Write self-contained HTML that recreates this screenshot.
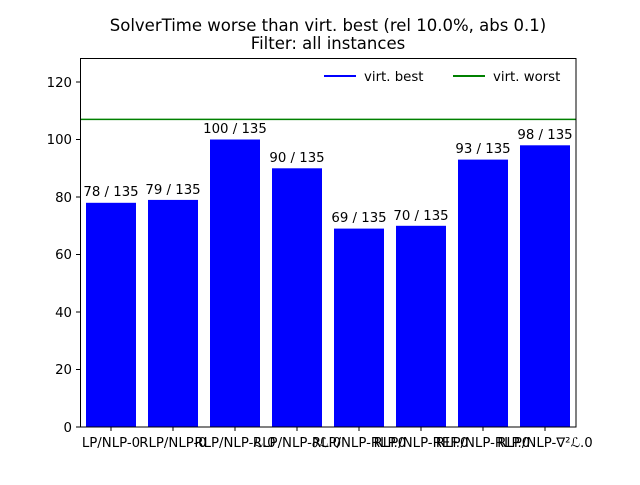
<!DOCTYPE html>
<html><head><meta charset="utf-8"><style>body{margin:0;background:#fff}</style></head><body>
<svg width="640" height="480" xmlns="http://www.w3.org/2000/svg" font-family="DejaVu Sans, Liberation Sans, sans-serif" font-size="13.3">
<rect width="640" height="480" fill="#fff"/>
<text x="328" y="31" text-anchor="middle" font-size="16.5">SolverTime worse than virt. best (rel 10.0%, abs 0.1)</text>
<text x="328" y="49" text-anchor="middle" font-size="16.5">Filter: all instances</text>
<g fill="#0000ff">
<rect x="86" y="202.8" width="50" height="224.2"/>
<rect x="148" y="199.9" width="50" height="227.1"/>
<rect x="210" y="139.5" width="50" height="287.5"/>
<rect x="272" y="168.3" width="50" height="258.7"/>
<rect x="334" y="228.6" width="50" height="198.4"/>
<rect x="396" y="225.8" width="50" height="201.2"/>
<rect x="458" y="159.6" width="50" height="267.4"/>
<rect x="520" y="145.3" width="50" height="281.7"/>
</g>
<g text-anchor="middle">
<text x="111" y="196">78 / 135</text>
<text x="173" y="194">79 / 135</text>
<text x="235" y="133">100 / 135</text>
<text x="297" y="162">90 / 135</text>
<text x="359" y="222">69 / 135</text>
<text x="421" y="220">70 / 135</text>
<text x="483" y="153">93 / 135</text>
<text x="545" y="139">98 / 135</text>
</g>
<line x1="80" y1="119.4" x2="576" y2="119.4" stroke="#008000" stroke-width="1.5"/>
<rect x="80.5" y="58.5" width="495.5" height="368.5" fill="none" stroke="#000" stroke-width="1"/>
<g stroke="#000">
<line x1="76" y1="427" x2="80" y2="427"/><line x1="76" y1="369.5" x2="80" y2="369.5"/>
<line x1="76" y1="312" x2="80" y2="312"/><line x1="76" y1="254.5" x2="80" y2="254.5"/>
<line x1="76" y1="197" x2="80" y2="197"/><line x1="76" y1="139.5" x2="80" y2="139.5"/>
<line x1="76" y1="82" x2="80" y2="82"/>
<line x1="111" y1="427" x2="111" y2="431"/><line x1="173" y1="427" x2="173" y2="431"/>
<line x1="235" y1="427" x2="235" y2="431"/><line x1="297" y1="427" x2="297" y2="431"/>
<line x1="359" y1="427" x2="359" y2="431"/><line x1="421" y1="427" x2="421" y2="431"/>
<line x1="483" y1="427" x2="483" y2="431"/><line x1="545" y1="427" x2="545" y2="431"/>
</g>
<g text-anchor="end">
<text x="72" y="432">0</text><text x="72" y="374">20</text><text x="72" y="317">40</text>
<text x="72" y="259">60</text><text x="72" y="202">80</text><text x="72" y="144">100</text>
<text x="72" y="87">120</text>
</g>
<g text-anchor="middle">
<text x="111" y="447">LP/NLP-0</text>
<text x="173" y="447">RLP/NLP-0</text>
<text x="235" y="447">RLP/NLP-ℒ.0</text>
<text x="297" y="447">RLP/NLP-∂ℒ.0</text>
<text x="359" y="447">RLP/NLP-RLP.0</text>
<text x="421" y="447">RLP/NLP-REF.0</text>
<text x="483" y="447">RLP/NLP-RLP.0</text>
<text x="545" y="447">RLP/NLP-∇²ℒ.0</text>
</g>
<line x1="324" y1="76" x2="356" y2="76" stroke="#0000ff" stroke-width="2"/>
<text x="364" y="81">virt. best</text>
<line x1="453" y1="76" x2="485" y2="76" stroke="#008000" stroke-width="2"/>
<text x="493" y="81">virt. worst</text>
</svg>
</body></html>
